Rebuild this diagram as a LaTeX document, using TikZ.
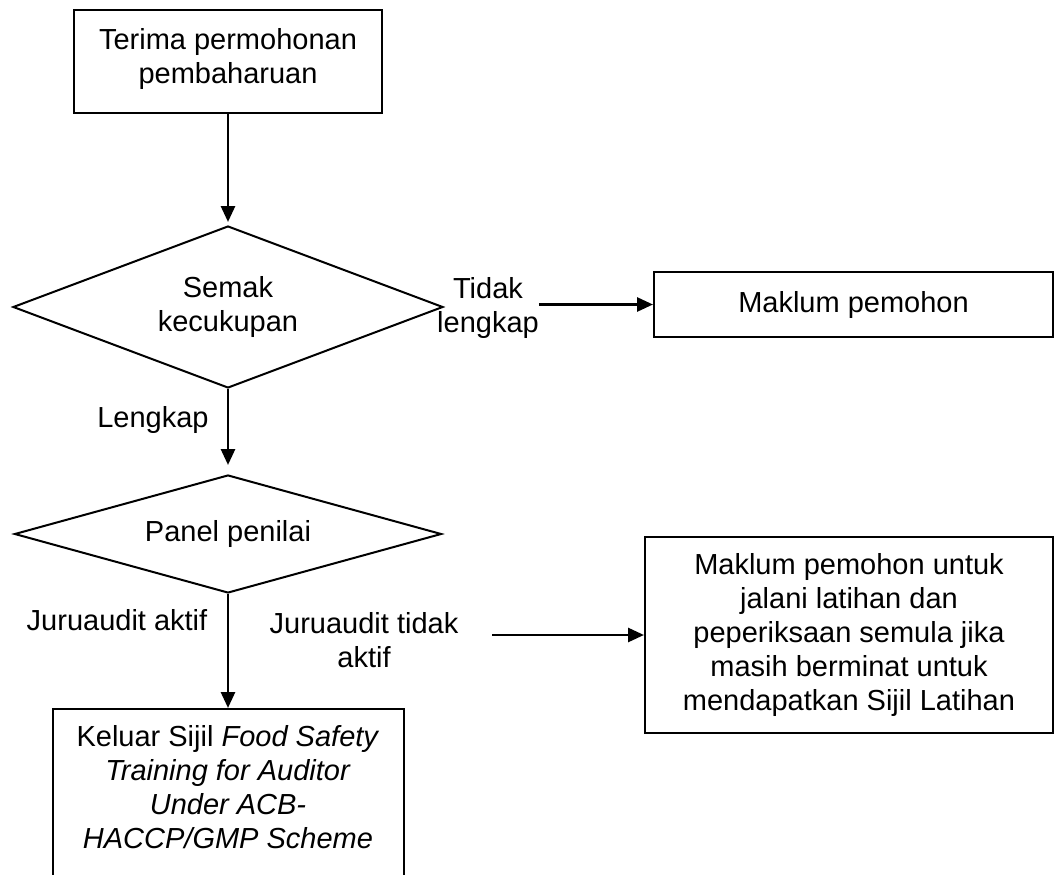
\documentclass[tikz,border=0pt]{standalone}
\usepackage{fontspec}
\setmainfont{Liberation Sans}
\usetikzlibrary{shapes.geometric,arrows.meta}

\tikzset{
  every node/.style={font=\fontsize{29}{34}\selectfont, align=center},
  box/.style={draw, line width=2pt, rectangle, inner sep=0pt},
  decision/.style={draw, line width=2pt, diamond, aspect=2.6, inner sep=0pt},
  flow/.style={line width=2.8pt, -{Triangle[length=16pt,width=14pt]}},
  lbl/.style={inner sep=0pt}
}

\begin{document}
\begin{tikzpicture}[x=1pt,y=-1pt]
    \clip (0,0) rectangle (1055,875);
    \useasboundingbox (0,0) rectangle (1055,875);

    \node[box, minimum width=308, minimum height=103, text depth=12pt] (terima) at (228,61.5) {Terima permohonan\\pembaharuan};
    \node[decision, minimum width=430, minimum height=162] (semak) at (228,307) {Semak\\kecukupan};
    \node[lbl] (tidak) at (488,308) {Tidak\\lengkap};
    \node[box, minimum width=399, minimum height=65] (maklum) at (853.5,304.5) {Maklum pemohon};
    \node[lbl] (lengkap) at (153,420) {Lengkap};
    \node[decision, minimum width=427, minimum height=118, aspect=3.6] (panel) at (228,534) {Panel penilai};
    \node[lbl] (aktif) at (117,620) {Juruaudit aktif};
    \node[lbl] (tidakaktif) at (364,640) {Juruaudit tidak\\aktif};
    \node[box, minimum width=408, minimum height=196] (latihan) at (849,635)
        {Maklum pemohon untuk\\jalani latihan dan\\peperiksaan semula jika\\masih berminat untuk\\mendapatkan Sijil Latihan};
    \node[box, minimum width=351, minimum height=200, anchor=north] (keluar) at (228,708)
        {Keluar Sijil \textit{Food Safety}\\\textit{Training for Auditor}\\\textit{Under ACB-}\\\textit{HACCP/GMP Scheme}\\\strut};
    \coordinate (cabang) at (492,635);

    \draw[flow, shorten >=3pt] (terima) -- (semak);
    \draw[flow] (tidak.east |- maklum.west) -- (maklum.west);
    \draw[flow, shorten >=9pt] (semak) -- (panel);
    \draw[flow] (panel) -- (keluar);
    \draw[flow] (cabang |- latihan.west) -- (latihan.west);
\end{tikzpicture}
\end{document}
